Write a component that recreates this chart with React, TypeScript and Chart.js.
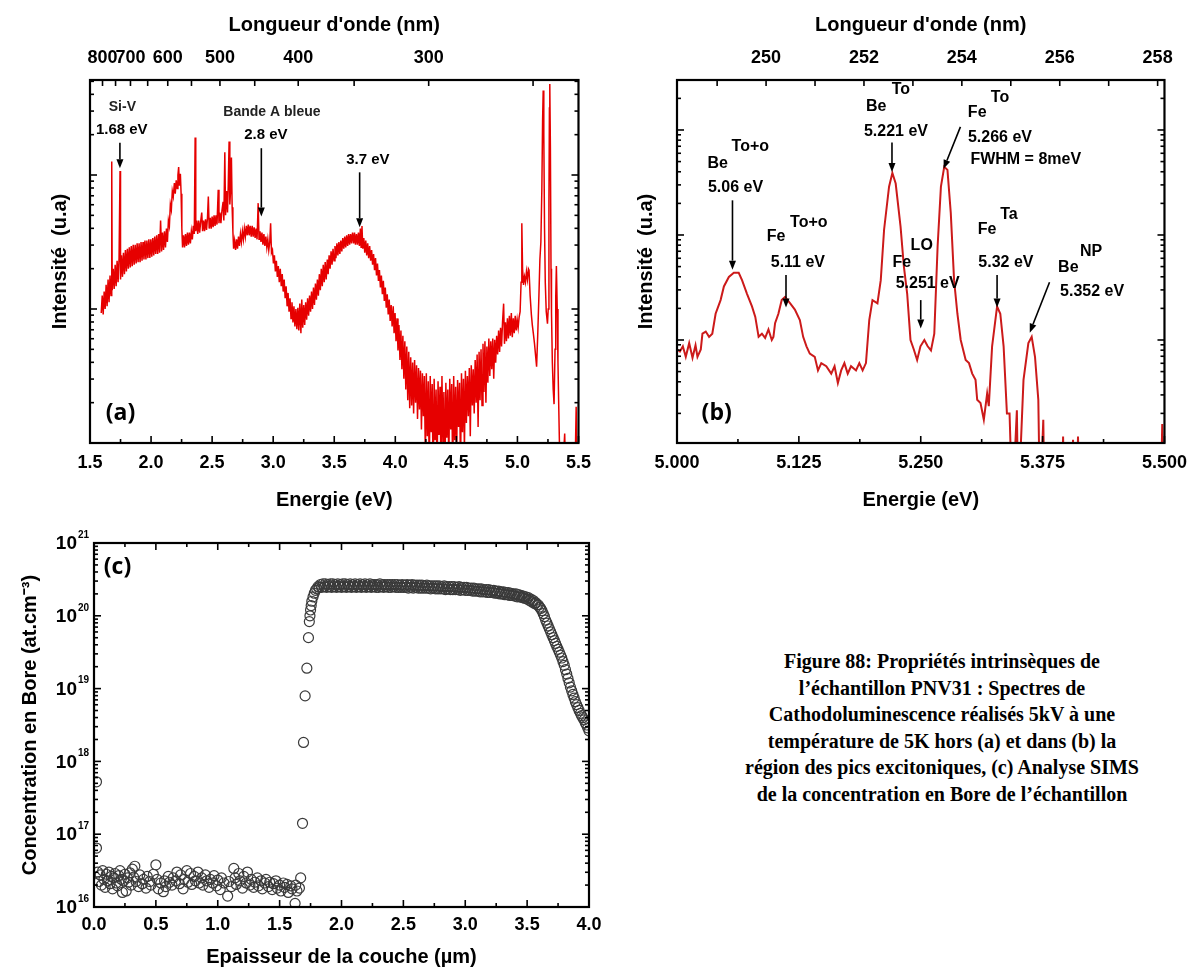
import React, { useEffect, useRef } from 'react';
import { Chart, registerables } from 'chart.js';
Chart.register(...registerables);

const SANS = "'Liberation Sans', Arial, Helvetica, sans-serif";
const LABEL_FONT = "'Open Sans', 'Liberation Sans', sans-serif";

// ---------------- Panel (a): CL spectrum, [energy eV, log10 intensity] ----------------
const specA: [number, number][] = [
  [1.592,0.97],[1.600,1.10],[1.608,0.96],[1.616,1.13],[1.624,1.00],[1.632,1.18],[1.640,1.02],[1.648,1.22],[1.656,1.05],[1.664,1.25],[1.672,1.10],[1.678,2.10],[1.682,1.14],[1.690,1.30],[1.698,1.15],[1.706,1.33],[1.714,1.17],[1.722,1.36],[1.730,1.20],[1.738,1.38],[1.746,2.03],[1.750,1.22],[1.758,1.40],[1.766,1.24],[1.774,1.42],[1.782,1.26],[1.790,1.44],[1.798,1.28],[1.806,1.45],[1.814,1.30],[1.822,1.46],[1.830,1.31],[1.838,1.47],[1.846,1.32],[1.854,1.48],[1.862,1.33],[1.870,1.48],[1.878,1.34],[1.886,1.49],[1.894,1.35],[1.902,1.49],[1.910,1.35],[1.918,1.50],[1.926,1.36],[1.934,1.50],[1.942,1.37],[1.950,1.51],[1.958,1.37],[1.966,1.51],[1.974,1.38],[1.982,1.52],[1.990,1.38],[1.998,1.52],[2.006,1.39],[2.014,1.53],[2.022,1.40],[2.030,1.54],[2.038,1.41],[2.046,1.55],[2.054,1.41],[2.062,1.56],[2.070,1.42],[2.078,1.66],[2.086,1.43],[2.094,1.57],[2.102,1.44],[2.110,1.58],[2.118,1.46],[2.126,1.60],[2.134,1.50],[2.142,1.66],[2.150,1.62],[2.158,1.78],[2.166,1.74],[2.174,1.88],[2.182,1.84],[2.191,1.94],[2.198,1.86],[2.206,1.96],[2.214,1.90],[2.220,2.00],[2.226,2.06],[2.232,1.92],[2.240,2.01],[2.246,1.86],[2.252,1.60],[2.258,1.46],[2.266,1.55],[2.274,1.46],[2.282,1.56],[2.290,1.47],[2.298,1.57],[2.306,1.48],[2.314,1.57],[2.322,1.49],[2.330,1.58],[2.338,1.52],[2.346,1.62],[2.354,1.56],[2.361,2.28],[2.366,1.58],[2.374,1.66],[2.382,1.56],[2.390,1.66],[2.398,1.57],[2.406,1.65],[2.415,1.72],[2.422,1.58],[2.430,1.66],[2.438,1.58],[2.446,1.67],[2.454,1.59],[2.462,1.68],[2.469,1.84],[2.476,1.60],[2.484,1.68],[2.492,1.60],[2.500,1.69],[2.508,1.61],[2.516,1.70],[2.524,1.62],[2.532,1.70],[2.540,1.63],[2.550,1.89],[2.556,1.64],[2.564,1.72],[2.572,1.64],[2.580,1.73],[2.590,1.80],[2.596,1.66],[2.604,2.17],[2.610,1.70],[2.618,1.88],[2.626,1.72],[2.632,1.92],[2.639,2.25],[2.645,1.78],[2.652,1.90],[2.658,2.13],[2.664,1.76],[2.670,1.58],[2.676,1.45],[2.684,1.51],[2.692,1.44],[2.700,1.52],[2.708,1.45],[2.716,1.54],[2.724,1.47],[2.732,1.56],[2.740,1.50],[2.748,1.58],[2.756,1.52],[2.764,1.60],[2.772,1.54],[2.780,1.62],[2.788,1.55],[2.796,1.63],[2.804,1.55],[2.812,1.62],[2.820,1.54],[2.828,1.62],[2.836,1.54],[2.844,1.61],[2.852,1.53],[2.860,1.60],[2.868,1.52],[2.877,1.79],[2.884,1.52],[2.892,1.58],[2.900,1.50],[2.908,1.57],[2.916,1.48],[2.924,1.56],[2.932,1.47],[2.940,1.54],[2.948,1.46],[2.956,1.52],[2.964,1.44],[2.972,1.50],[2.979,1.64],[2.986,1.42],[2.994,1.44],[3.002,1.34],[3.010,1.40],[3.018,1.28],[3.026,1.36],[3.034,1.24],[3.042,1.32],[3.050,1.20],[3.058,1.30],[3.066,1.17],[3.074,1.26],[3.082,1.13],[3.090,1.22],[3.098,1.08],[3.106,1.17],[3.114,1.02],[3.122,1.12],[3.130,0.98],[3.138,1.08],[3.146,0.93],[3.154,1.05],[3.162,0.90],[3.170,1.02],[3.178,0.87],[3.186,1.00],[3.194,0.85],[3.202,1.01],[3.210,0.84],[3.218,1.04],[3.227,0.82],[3.234,1.07],[3.242,0.86],[3.250,1.03],[3.258,0.88],[3.266,1.05],[3.274,0.92],[3.282,1.08],[3.290,0.95],[3.298,1.10],[3.306,0.98],[3.314,1.13],[3.322,1.00],[3.330,1.16],[3.338,1.03],[3.346,1.19],[3.354,1.07],[3.362,1.22],[3.370,1.10],[3.378,1.26],[3.386,1.14],[3.394,1.30],[3.402,1.17],[3.410,1.33],[3.418,1.20],[3.426,1.35],[3.434,1.22],[3.443,1.37],[3.450,1.26],[3.458,1.40],[3.466,1.30],[3.474,1.43],[3.482,1.33],[3.490,1.45],[3.498,1.36],[3.506,1.47],[3.514,1.38],[3.522,1.49],[3.530,1.40],[3.538,1.50],[3.546,1.41],[3.554,1.51],[3.562,1.43],[3.570,1.53],[3.578,1.45],[3.586,1.54],[3.594,1.46],[3.602,1.55],[3.610,1.47],[3.618,1.56],[3.626,1.48],[3.634,1.56],[3.642,1.49],[3.650,1.57],[3.659,1.49],[3.666,1.57],[3.674,1.48],[3.682,1.56],[3.690,1.48],[3.698,1.57],[3.706,1.47],[3.714,1.60],[3.720,1.46],[3.727,1.62],[3.734,1.45],[3.742,1.53],[3.750,1.42],[3.758,1.51],[3.766,1.40],[3.774,1.49],[3.782,1.38],[3.790,1.47],[3.798,1.36],[3.806,1.44],[3.814,1.33],[3.822,1.41],[3.830,1.29],[3.838,1.38],[3.846,1.25],[3.854,1.34],[3.862,1.21],[3.870,1.29],[3.878,1.16],[3.886,1.25],[3.894,1.11],[3.902,1.21],[3.910,1.06],[3.918,1.16],[3.926,1.01],[3.934,1.11],[3.942,0.96],[3.950,1.07],[3.958,0.91],[3.966,1.03],[3.974,0.87],[3.983,1.02],[3.990,0.82],[3.998,0.97],[4.006,0.76],[4.014,0.93],[4.022,0.69],[4.030,0.88],[4.038,0.62],[4.046,0.84],[4.054,0.55],[4.062,0.80],[4.070,0.48],[4.078,0.76],[4.086,0.40],[4.094,0.72],[4.102,0.32],[4.110,0.68],[4.118,0.26],[4.126,0.64],[4.134,0.28],[4.142,0.60],[4.150,0.22],[4.158,0.62],[4.166,0.30],[4.174,0.58],[4.182,0.18],[4.190,0.56],[4.198,0.25],[4.206,0.54],[4.214,0.10],[4.222,0.52],[4.230,0.20],[4.238,0.50],[4.246,-0.10],[4.254,0.52],[4.262,0.05],[4.270,0.46],[4.278,-0.20],[4.286,0.50],[4.294,0.08],[4.302,0.44],[4.310,-0.30],[4.318,0.48],[4.326,0.02],[4.334,0.40],[4.342,-0.25],[4.350,0.46],[4.358,0.06],[4.366,0.42],[4.374,-0.20],[4.382,0.50],[4.390,0.00],[4.398,0.38],[4.406,-0.30],[4.414,0.45],[4.422,0.04],[4.430,0.40],[4.438,-0.15],[4.446,0.48],[4.454,0.10],[4.462,0.44],[4.470,-0.25],[4.478,0.50],[4.486,0.02],[4.494,0.42],[4.502,-0.10],[4.510,0.47],[4.518,0.12],[4.526,0.45],[4.534,-0.20],[4.542,0.52],[4.550,0.08],[4.558,0.48],[4.566,-0.05],[4.574,0.54],[4.582,0.15],[4.590,0.50],[4.598,0.20],[4.606,0.56],[4.614,0.05],[4.622,0.58],[4.631,0.28],[4.638,0.55],[4.646,0.22],[4.654,0.62],[4.662,0.30],[4.670,0.66],[4.678,0.12],[4.686,0.68],[4.694,0.32],[4.702,0.70],[4.710,0.28],[4.718,0.74],[4.726,0.38],[4.734,0.76],[4.742,0.30],[4.750,0.72],[4.758,0.45],[4.766,0.78],[4.774,0.50],[4.782,0.76],[4.790,0.55],[4.798,0.78],[4.806,0.48],[4.814,0.77],[4.822,0.60],[4.830,0.80],[4.838,0.66],[4.846,0.84],[4.854,0.68],[4.862,0.86],[4.870,0.72],[4.878,0.90],[4.887,1.04],[4.894,0.74],[4.902,0.90],[4.910,0.76],[4.918,0.93],[4.926,0.78],[4.934,0.95],[4.942,0.80],[4.950,0.97],[4.958,0.79],[4.966,0.93],[4.974,0.82],[4.982,0.95],[4.990,0.84],[4.998,0.92],[5.006,0.86],[5.014,0.94],[5.022,0.98],[5.030,1.20],[5.036,1.64],[5.042,1.30],[5.050,1.18],[5.058,1.24],[5.066,1.20],[5.074,1.28],[5.082,1.22],[5.090,1.30],[5.095,1.29],[5.104,1.10],[5.114,0.96],[5.122,0.88],[5.130,0.82],[5.140,0.74],[5.148,0.66],[5.157,0.57],[5.166,0.80],[5.176,1.10],[5.184,1.37],[5.192,1.50],[5.200,1.90],[5.206,2.40],[5.211,2.63],[5.216,2.30],[5.222,1.60],[5.228,1.20],[5.236,0.98],[5.246,0.89],[5.252,1.00],[5.258,1.80],[5.262,2.50],[5.265,2.68],[5.270,2.20],[5.275,1.30],[5.279,0.97],[5.286,0.60],[5.293,0.40],[5.300,0.29],[5.308,0.70],[5.314,1.10],[5.319,1.32],[5.326,1.00],[5.332,0.60],[5.338,0.29],[5.346,-0.10],[5.354,-0.30],[5.360,-0.40],[5.370,-0.20],[5.380,-0.05],[5.387,0.07],[5.394,-0.20],[5.404,-0.35],[5.414,-0.40],[5.440,-0.40],[5.470,-0.30],[5.481,0.27],[5.488,-0.30]
];
const aEnergyTicks = [1.5, 2.0, 2.5, 3.0, 3.5, 4.0, 4.5, 5.0, 5.5];
const aEnergyMinor = [1.75, 2.25, 2.75, 3.25, 3.75, 4.25, 4.75, 5.25];
const aWaveTicks = [800, 750, 700, 650, 600, 550, 500, 450, 400, 350, 300, 250];
const aWaveLabels = [800, 700, 600, 500, 400, 300];
const WAVE_CONST = 1282; // eV·nm relation used by the top axis of (a)
const aLogMin = 0, aLogMax = 2.709;

// ---------------- Panel (b): excitonic region, [energy eV, log10 intensity] ----------------
const specB: [number, number][] = [
  [4.999,0.92],[5.003,0.89],[5.006,0.94],[5.009,0.84],[5.0125,0.97],[5.0159,0.83],[5.019,0.95],[5.021,0.84],[5.0244,0.91],[5.0261,1.06],[5.0295,1.08],[5.0329,1.03],[5.0362,1.06],[5.0396,1.25],[5.0447,1.38],[5.0481,1.51],[5.0532,1.60],[5.0583,1.64],[5.0633,1.64],[5.0667,1.57],[5.0718,1.44],[5.0769,1.32],[5.0803,1.22],[5.0837,1.03],[5.0871,1.06],[5.0904,1.02],[5.0938,1.10],[5.0972,1.00],[5.0989,1.03],[5.1006,1.16],[5.1040,1.25],[5.1074,1.38],[5.1108,1.41],[5.1159,1.35],[5.1209,1.29],[5.1260,1.19],[5.1294,1.03],[5.1328,0.94],[5.1362,0.87],[5.1413,0.84],[5.1446,0.71],[5.1480,0.78],[5.1531,0.75],[5.1582,0.68],[5.1616,0.75],[5.1650,0.59],[5.1684,0.71],[5.1717,0.78],[5.1751,0.68],[5.1785,0.75],[5.1836,0.71],[5.1870,0.78],[5.1904,0.71],[5.1938,0.78],[5.1972,1.19],[5.2005,1.38],[5.2056,1.35],[5.2090,1.57],[5.2124,2.05],[5.2175,2.46],[5.2209,2.59],[5.2243,2.49],[5.2293,2.08],[5.2327,1.70],[5.2361,1.44],[5.2395,1.00],[5.2429,0.91],[5.2463,0.81],[5.2497,0.94],[5.2537,1.00],[5.2571,0.94],[5.2605,0.90],[5.2639,1.06],[5.2673,1.89],[5.2707,2.46],[5.2741,2.65],[5.2774,2.62],[5.2808,2.21],[5.2842,1.57],[5.2876,1.25],[5.2910,1.00],[5.2961,0.81],[5.2995,0.78],[5.3028,0.68],[5.3062,0.62],[5.3079,0.43],[5.3113,0.40],[5.3147,0.24],[5.3181,0.49],[5.3198,0.37],[5.3232,0.94],[5.3283,1.32],[5.3316,1.25],[5.3350,0.94],[5.3384,0.30],[5.3411,0.30],[5.3440,-0.60],[5.3486,0.33],[5.3500,-0.60],[5.3554,0.62],[5.3604,0.97],[5.3638,1.03],[5.3672,0.84],[5.3706,0.43],[5.3723,-0.60],[5.3757,0.24],[5.3770,-0.60],[5.3950,-0.60],[5.3960,0.08],[5.3975,-0.60],[5.4050,-0.60],[5.4062,0.05],[5.4080,-0.60],[5.4100,-0.60],[5.4113,0.08],[5.4130,-0.60],[5.4960,-0.60],[5.4977,0.20],[5.4995,-0.60]
];
const bEnergyTicks = [5.0, 5.125, 5.25, 5.375, 5.5];
const bEnergyMinor = [5.0625, 5.1875, 5.3125, 5.4375];
const bWaveTicks = [249, 250, 251, 252, 253, 254, 255, 256, 257, 258];
const bWaveLabels = [250, 252, 254, 256, 258];
const bWaveMin = 248.18, bWaveMax = 258.14;
const bLogMin = 0.019, bLogMax = 3.476;

// ---------------- Panel (c): SIMS boron profile, [depth µm, log10 concentration] ----------------
const simsLow: [number, number][] = [
  [0.02,17.72],[0.02,16.81],[0.03,16.48],[0.04,16.35],[0.05,16.44],[0.06,16.30],[0.07,16.50],[0.08,16.38],[0.09,16.27],[0.10,16.45],[0.11,16.36],[0.12,16.48],[0.13,16.32],[0.14,16.42],[0.15,16.25],[0.16,16.40],[0.17,16.46],[0.18,16.33],[0.19,16.29],[0.20,16.43],[0.21,16.50],[0.22,16.38],[0.23,16.20],[0.24,16.36],[0.25,16.45],[0.26,16.22],[0.27,16.40],[0.28,16.34],[0.29,16.47],[0.30,16.30],[0.31,16.52],[0.32,16.41],[0.33,16.56],[0.34,16.35],[0.36,16.28],[0.37,16.44],[0.39,16.32],[0.40,16.38],[0.42,16.26],[0.43,16.42],[0.45,16.35],[0.46,16.30],[0.48,16.45],[0.50,16.58],[0.51,16.38],[0.52,16.25],[0.54,16.33],[0.56,16.21],[0.57,16.36],[0.58,16.28],[0.60,16.42],[0.61,16.34],[0.63,16.30],[0.64,16.40],[0.66,16.36],[0.67,16.48],[0.69,16.32],[0.70,16.44],[0.72,16.25],[0.73,16.38],[0.75,16.50],[0.76,16.34],[0.78,16.46],[0.79,16.31],[0.81,16.42],[0.82,16.36],[0.84,16.48],[0.85,16.33],[0.87,16.40],[0.88,16.30],[0.90,16.44],[0.91,16.36],[0.93,16.27],[0.94,16.38],[0.96,16.33],[0.97,16.43],[0.99,16.29],[1.00,16.37],[1.02,16.24],[1.03,16.40],[1.05,16.33],[1.08,16.15],[1.09,16.35],[1.11,16.28],[1.13,16.53],[1.14,16.40],[1.15,16.31],[1.17,16.46],[1.18,16.36],[1.20,16.26],[1.21,16.42],[1.23,16.33],[1.24,16.48],[1.26,16.30],[1.27,16.38],[1.29,16.27],[1.30,16.34],[1.32,16.40],[1.33,16.29],[1.35,16.36],[1.36,16.25],[1.38,16.33],[1.39,16.38],[1.41,16.28],[1.42,16.34],[1.44,16.24],[1.45,16.32],[1.47,16.36],[1.48,16.26],[1.50,16.30],[1.51,16.22],[1.53,16.33],[1.54,16.27],[1.56,16.31],[1.57,16.20],[1.59,16.29],[1.60,16.25],[1.625,16.05],[1.63,16.30],[1.64,16.22],[1.66,16.26],[1.67,16.40]
];
const simsRise: [number, number][] = [
  [1.685,17.15],[1.693,18.26],[1.706,18.90],[1.72,19.28],[1.733,19.70],[1.74,19.92],[1.745,20.00],[1.75,20.08],[1.755,20.14],[1.76,20.20],[1.77,20.26],[1.78,20.31],[1.79,20.35]
];
const simsPlateau: [number, number][] = [
  [1.80,20.37],[1.81,20.40],[1.82,20.39],[1.83,20.43],[1.84,20.39],[1.85,20.44],[1.86,20.40],[1.87,20.44],[1.88,20.39],[1.89,20.43],[1.90,20.40],[1.91,20.44],[1.92,20.39],[1.93,20.44],[1.94,20.40],[1.95,20.43],[1.96,20.39],[1.97,20.44],[1.98,20.40],[1.99,20.43],
  [2.00,20.39],[2.01,20.44],[2.02,20.40],[2.03,20.44],[2.04,20.39],[2.05,20.43],[2.06,20.40],[2.07,20.44],[2.08,20.39],[2.09,20.43],[2.10,20.40],[2.11,20.44],[2.12,20.39],[2.13,20.43],[2.14,20.40],[2.15,20.44],[2.16,20.39],[2.17,20.43],[2.18,20.40],[2.19,20.44],
  [2.20,20.39],[2.21,20.43],[2.22,20.40],[2.23,20.44],[2.24,20.39],[2.25,20.43],[2.26,20.40],[2.27,20.43],[2.28,20.39],[2.29,20.43],[2.30,20.39],[2.31,20.44],[2.32,20.40],[2.33,20.43],[2.34,20.39],[2.35,20.43],[2.36,20.40],[2.37,20.43],[2.38,20.39],[2.39,20.43],
  [2.40,20.39],[2.41,20.43],[2.42,20.40],[2.43,20.43],[2.44,20.39],[2.45,20.43],[2.46,20.39],[2.47,20.42],[2.48,20.39],[2.49,20.43],[2.50,20.39],[2.51,20.42],[2.52,20.39],[2.53,20.43],[2.54,20.38],[2.55,20.42],[2.56,20.39],[2.57,20.43],[2.58,20.38],[2.59,20.42],
  [2.60,20.39],[2.61,20.42],[2.62,20.38],[2.63,20.42],[2.64,20.38],[2.65,20.42],[2.66,20.38],[2.67,20.41],[2.68,20.38],[2.69,20.42],[2.70,20.38],[2.71,20.41],[2.72,20.37],[2.73,20.41],[2.74,20.38],[2.75,20.41],[2.76,20.37],[2.77,20.41],[2.78,20.37],[2.79,20.41],
  [2.80,20.37],[2.81,20.40],[2.82,20.37],[2.83,20.41],[2.84,20.36],[2.85,20.40],[2.86,20.37],[2.87,20.40],[2.88,20.36],[2.89,20.40],[2.90,20.36],[2.91,20.40],[2.92,20.36],[2.93,20.39],[2.94,20.36],[2.95,20.40],[2.96,20.35],[2.97,20.39],[2.98,20.36],[2.99,20.39],
  [3.00,20.35],[3.01,20.39],[3.02,20.35],[3.03,20.38],[3.04,20.35],[3.05,20.38],[3.06,20.34],[3.07,20.38],[3.08,20.34],[3.09,20.37],[3.10,20.34],[3.11,20.37],[3.12,20.33],[3.13,20.37],[3.14,20.33],[3.15,20.36],[3.16,20.33],[3.17,20.36],[3.18,20.32],[3.19,20.36],
  [3.20,20.32],[3.21,20.35],[3.22,20.32],[3.23,20.35],[3.24,20.31],[3.25,20.34],[3.26,20.31],[3.27,20.34],[3.28,20.30],[3.29,20.33],[3.30,20.30],[3.31,20.33],[3.32,20.29],[3.33,20.32],[3.34,20.29],[3.35,20.32],[3.36,20.28],[3.37,20.31],[3.38,20.28],[3.39,20.30],
  [3.40,20.27],[3.41,20.30],[3.42,20.26],[3.43,20.29],[3.44,20.26],[3.45,20.28],[3.46,20.25],[3.47,20.27],[3.48,20.24],[3.49,20.26],[3.50,20.23],[3.51,20.25],[3.52,20.21],[3.53,20.23],[3.54,20.19],[3.55,20.21],[3.56,20.17],[3.57,20.18],[3.58,20.15],[3.59,20.15],[3.60,20.12]
];
const simsFall: [number, number][] = [
  [3.61,20.10],[3.62,20.07],[3.63,20.03],[3.64,19.99],[3.65,19.94],[3.66,19.90],[3.67,19.86],[3.68,19.82],[3.69,19.78],[3.70,19.74],[3.71,19.70],[3.72,19.66],[3.73,19.62],[3.74,19.58],[3.75,19.54],[3.76,19.50],[3.77,19.46],[3.78,19.42],[3.79,19.37],[3.80,19.32],[3.81,19.26],[3.82,19.20],[3.83,19.14],[3.84,19.08],[3.85,19.02],[3.86,18.97],[3.87,18.92],[3.88,18.87],[3.89,18.82],[3.90,18.78],[3.91,18.74],[3.92,18.70],[3.93,18.66],[3.94,18.63],[3.95,18.60],[3.96,18.57],[3.97,18.53],[3.98,18.50],[3.99,18.46],[4.00,18.42]
];
const cDepthTicks = [0, 0.5, 1.0, 1.5, 2.0, 2.5, 3.0, 3.5, 4.0];
const cDepthMinor = [0.25, 0.75, 1.25, 1.75, 2.25, 2.75, 3.25, 3.75];
const cExps = [16, 17, 18, 19, 20, 21];

// ---------------- helpers ----------------
type Side = { scale: string; side: 'top' | 'bottom' | 'left' | 'right'; major: number[]; minor: number[]; majLen?: number; minLen?: number };
type Note = { text: string; x: number; y: number; size: number; weight?: string; family?: string; color?: string };
type Arrow = { x1: number; y1: number; x2: number; y2: number };

function logMinorMajor(e0: number, e1: number) {
  const major: number[] = [];
  const minor: number[] = [];
  for (let e = e0; e <= e1; e++) {
    major.push(Math.pow(10, e));
    for (let m = 2; m <= 9; m++) minor.push(m * Math.pow(10, e));
  }
  return { major, minor };
}

function framePlugin(sides: Side[]) {
  return {
    id: 'frameTicks',
    afterDatasetsDraw(chart: any) {
      const { ctx, chartArea: a } = chart;
      ctx.save();
      ctx.strokeStyle = '#000';
      ctx.lineWidth = 1.6;
      for (const s of sides) {
        const sc = chart.scales[s.scale];
        const draw = (v: number, len: number) => {
          const p = sc.getPixelForValue(v);
          const horiz = s.side === 'top' || s.side === 'bottom';
          if (horiz && (p < a.left - 0.5 || p > a.right + 0.5)) return;
          if (!horiz && (p < a.top - 0.5 || p > a.bottom + 0.5)) return;
          ctx.beginPath();
          if (s.side === 'bottom') { ctx.moveTo(p, a.bottom); ctx.lineTo(p, a.bottom - len); }
          if (s.side === 'top') { ctx.moveTo(p, a.top); ctx.lineTo(p, a.top + len); }
          if (s.side === 'left') { ctx.moveTo(a.left, p); ctx.lineTo(a.left + len, p); }
          if (s.side === 'right') { ctx.moveTo(a.right, p); ctx.lineTo(a.right - len, p); }
          ctx.stroke();
        };
        s.major.forEach((v) => draw(v, s.majLen ?? 7));
        s.minor.forEach((v) => draw(v, s.minLen ?? 4));
      }
      ctx.lineWidth = 2.2;
      ctx.strokeRect(a.left, a.top, a.right - a.left, a.bottom - a.top);
      ctx.restore();
    },
  };
}

function notesPlugin(notes: Note[], arrows: Arrow[]) {
  return {
    id: 'notes',
    afterDatasetsDraw(chart: any) {
      const ctx = chart.ctx;
      const xs = chart.scales.x;
      const ys = chart.scales.y;
      const px = (v: number) => xs.getPixelForValue(v);
      const py = (v: number) => ys.getPixelForValue(Math.pow(10, v));
      ctx.save();
      ctx.textAlign = 'center';
      ctx.textBaseline = 'middle';
      for (const n of notes) {
        ctx.fillStyle = n.color ?? '#000';
        ctx.font = `${n.weight ?? 'bold'} ${n.size}px ${n.family ?? SANS}`;
        ctx.fillText(n.text, px(n.x), py(n.y));
      }
      ctx.strokeStyle = '#000';
      ctx.fillStyle = '#000';
      ctx.lineWidth = 1.6;
      for (const ar of arrows) {
        const x1 = px(ar.x1), y1 = py(ar.y1), x2 = px(ar.x2), y2 = py(ar.y2);
        const ang = Math.atan2(y2 - y1, x2 - x1);
        const L = 9, W = 3.5;
        const bx = x2 - L * Math.cos(ang), by = y2 - L * Math.sin(ang);
        ctx.beginPath(); ctx.moveTo(x1, y1); ctx.lineTo(bx, by); ctx.stroke();
        ctx.beginPath();
        ctx.moveTo(x2, y2);
        ctx.lineTo(bx + W * Math.sin(ang), by - W * Math.cos(ang));
        ctx.lineTo(bx - W * Math.sin(ang), by + W * Math.cos(ang));
        ctx.closePath(); ctx.fill();
      }
      ctx.restore();
    },
  };
}

const tickFont = { family: SANS, size: 18, weight: 'bold' as const };
const titleFont = { family: SANS, size: 20, weight: 'bold' as const };

function hAxis(opts: any) {
  return {
    type: 'linear', grid: { display: false, drawTicks: false }, border: { display: false },
    ...opts,
    ticks: { font: tickFont, color: '#000', autoSkip: false, maxRotation: 0, minRotation: 0, ...(opts.ticks || {}) },
  };
}

// ---------------- chart configs ----------------
const aNotes: Note[] = [
  { text: 'Si-V', x: 1.765, y: 2.51, size: 14, color: '#222' },
  { text: '1.68 eV', x: 1.76, y: 2.34, size: 15 },
  { text: 'Bande A bleue', x: 2.99, y: 2.47, size: 14, color: '#222' },
  { text: '2.8 eV', x: 2.94, y: 2.30, size: 15 },
  { text: '3.7 eV', x: 3.775, y: 2.11, size: 15 },
  { text: '(a)', x: 1.75, y: 0.22, size: 23, family: LABEL_FONT },
];
const aArrows: Arrow[] = [
  { x1: 1.745, y1: 2.24, x2: 1.745, y2: 2.05 },
  { x1: 2.903, y1: 2.20, x2: 2.903, y2: 1.69 },
  { x1: 3.708, y1: 2.02, x2: 3.708, y2: 1.61 },
];

function configA() {
  const yt = logMinorMajor(0, 2);
  const topE = aWaveTicks.map((w) => WAVE_CONST / w);
  return {
    type: 'line',
    data: { datasets: [{ data: specA.map(([e, v]) => ({ x: e, y: Math.pow(10, v) })), borderColor: '#e60000', borderWidth: 1.5, pointRadius: 0, tension: 0, fill: false }] },
    options: {
      responsive: false, animation: false, devicePixelRatio: 1, events: [],
      layout: { padding: { left: 0, top: 0, right: 16, bottom: 0 } },
      plugins: { legend: { display: false }, tooltip: { enabled: false } },
      scales: {
        x: hAxis({
          position: 'bottom', min: 1.5, max: 5.5,
          afterBuildTicks: (s: any) => { s.ticks = aEnergyTicks.map((v) => ({ value: v })); },
          afterFit: (s: any) => { s.height = 77; },
          ticks: { padding: 9, callback: (v: any) => Number(v).toFixed(1) },
          title: { display: true, text: 'Energie (eV)', font: titleFont, color: '#000', padding: { top: 0, bottom: 8 } },
        }),
        xTop: hAxis({
          position: 'top', min: 1.5, max: 5.5,
          afterBuildTicks: (s: any) => { s.ticks = aWaveLabels.map((w) => ({ value: WAVE_CONST / w })); },
          afterFit: (s: any) => { s.height = 80; },
          ticks: { padding: 11, callback: (_v: any, i: number) => String(aWaveLabels[i]) },
          title: { display: true, text: "Longueur d'onde (nm)", font: titleFont, color: '#000', padding: { top: 13, bottom: 0 } },
        }),
        y: {
          type: 'logarithmic', position: 'left', min: Math.pow(10, aLogMin), max: Math.pow(10, aLogMax),
          grid: { display: false, drawTicks: false }, border: { display: false }, ticks: { display: false },
          afterFit: (s: any) => { s.width = 90; },
          title: { display: true, text: 'Intensité  (u.a)', font: titleFont, color: '#000', padding: { top: 48, bottom: 0 } },
        },
      },
    },
    plugins: [
      framePlugin([
        { scale: 'x', side: 'bottom', major: aEnergyTicks, minor: aEnergyMinor },
        { scale: 'x', side: 'top', major: topE, minor: [], majLen: 6 },
        { scale: 'y', side: 'left', major: yt.major, minor: yt.minor },
        { scale: 'y', side: 'right', major: yt.major, minor: yt.minor },
      ]),
      notesPlugin(aNotes, aArrows),
    ],
  };
}

const bNotes: Note[] = [
  { text: 'Be', x: 5.0417, y: 2.68, size: 16 },
  { text: 'To+o', x: 5.0752, y: 2.84, size: 16 },
  { text: '5.06 eV', x: 5.060, y: 2.45, size: 16 },
  { text: 'Fe', x: 5.1016, y: 1.98, size: 16 },
  { text: 'To+o', x: 5.1352, y: 2.12, size: 16 },
  { text: '5.11 eV', x: 5.124, y: 1.74, size: 16 },
  { text: 'Be', x: 5.2043, y: 3.22, size: 16 },
  { text: 'To', x: 5.2297, y: 3.38, size: 16 },
  { text: '5.221 eV', x: 5.2246, y: 2.98, size: 16 },
  { text: 'Fe', x: 5.3079, y: 3.17, size: 16 },
  { text: 'To', x: 5.3313, y: 3.31, size: 16 },
  { text: '5.266 eV', x: 5.3313, y: 2.93, size: 16 },
  { text: 'FWHM = 8meV', x: 5.3577, y: 2.72, size: 16 },
  { text: 'Fe', x: 5.2307, y: 1.74, size: 16 },
  { text: 'LO', x: 5.251, y: 1.90, size: 16 },
  { text: '5.251 eV', x: 5.2571, y: 1.54, size: 16 },
  { text: 'Fe', x: 5.3181, y: 2.05, size: 16 },
  { text: 'Ta', x: 5.3404, y: 2.19, size: 16 },
  { text: '5.32 eV', x: 5.3374, y: 1.74, size: 16 },
  { text: 'Be', x: 5.4014, y: 1.69, size: 16 },
  { text: 'NP', x: 5.4248, y: 1.84, size: 16 },
  { text: '5.352 eV', x: 5.4258, y: 1.46, size: 16 },
  { text: '(b)', x: 5.0407, y: 0.30, size: 23, family: LABEL_FONT },
];
const bArrows: Arrow[] = [
  { x1: 5.0569, y1: 2.33, x2: 5.0569, y2: 1.67 },
  { x1: 5.1118, y1: 1.62, x2: 5.1118, y2: 1.31 },
  { x1: 5.2205, y1: 2.88, x2: 5.2205, y2: 2.60 },
  { x1: 5.2907, y1: 3.03, x2: 5.2734, y2: 2.63 },
  { x1: 5.25, y1: 1.38, x2: 5.25, y2: 1.11 },
  { x1: 5.3283, y1: 1.62, x2: 5.3283, y2: 1.31 },
  { x1: 5.3821, y1: 1.55, x2: 5.3618, y2: 1.07 },
];

function configB() {
  const yt = logMinorMajor(0, 3);
  return {
    type: 'line',
    data: { datasets: [{ data: specB.map(([e, v]) => ({ x: e, y: Math.pow(10, v) })), borderColor: '#cc1a1a', borderWidth: 2, pointRadius: 0, tension: 0, fill: false }] },
    options: {
      responsive: false, animation: false, devicePixelRatio: 1, events: [],
      layout: { padding: { left: 0, top: 0, right: 27, bottom: 0 } },
      plugins: { legend: { display: false }, tooltip: { enabled: false } },
      scales: {
        x: hAxis({
          position: 'bottom', min: 5.0, max: 5.5,
          afterBuildTicks: (s: any) => { s.ticks = bEnergyTicks.map((v) => ({ value: v })); },
          afterFit: (s: any) => { s.height = 77; },
          ticks: { padding: 9, callback: (v: any) => Number(v).toFixed(3) },
          title: { display: true, text: 'Energie (eV)', font: titleFont, color: '#000', padding: { top: 0, bottom: 8 } },
        }),
        xTop: hAxis({
          position: 'top', min: bWaveMin, max: bWaveMax,
          afterBuildTicks: (s: any) => { s.ticks = bWaveLabels.map((v) => ({ value: v })); },
          afterFit: (s: any) => { s.height = 80; },
          ticks: { padding: 11, callback: (v: any) => String(v) },
          title: { display: true, text: "Longueur d'onde (nm)", font: titleFont, color: '#000', padding: { top: 13, bottom: 0 } },
        }),
        y: {
          type: 'logarithmic', position: 'left', min: Math.pow(10, bLogMin), max: Math.pow(10, bLogMax),
          grid: { display: false, drawTicks: false }, border: { display: false }, ticks: { display: false },
          afterFit: (s: any) => { s.width = 77; },
          title: { display: true, text: 'Intensité  (u.a)', font: titleFont, color: '#000', padding: { top: 34, bottom: 0 } },
        },
      },
    },
    plugins: [
      framePlugin([
        { scale: 'x', side: 'bottom', major: bEnergyTicks, minor: bEnergyMinor },
        { scale: 'xTop', side: 'top', major: bWaveTicks, minor: [], majLen: 6 },
        { scale: 'y', side: 'left', major: yt.major, minor: yt.minor },
        { scale: 'y', side: 'right', major: yt.major, minor: yt.minor },
      ]),
      notesPlugin(bNotes, bArrows),
    ],
  };
}

const cNotes: Note[] = [{ text: '(c)', x: 0.19, y: 20.66, size: 23, family: LABEL_FONT }];

const cYLabels = {
  id: 'cYLabels',
  afterDraw(chart: any) {
    const ctx = chart.ctx;
    const ys = chart.scales.y;
    const a = chart.chartArea;
    ctx.save();
    ctx.fillStyle = '#000';
    ctx.textBaseline = 'middle';
    for (const e of cExps) {
      const p = ys.getPixelForValue(Math.pow(10, e));
      const xr = a.left - 17;
      ctx.font = `bold 19px ${SANS}`;
      ctx.textAlign = 'right';
      ctx.fillText('10', xr, p + 1);
      ctx.font = `bold 10px ${SANS}`;
      ctx.textAlign = 'left';
      ctx.fillText(String(e), xr + 1, p - 8);
    }
    ctx.restore();
  },
};

function configC() {
  const yt = logMinorMajor(16, 21);
  const pts = [...simsLow, ...simsRise, ...simsPlateau, ...simsFall].map(([d, v]) => ({ x: d, y: Math.pow(10, v) }));
  return {
    type: 'scatter',
    data: { datasets: [{ data: pts, borderColor: '#3a3a3a', backgroundColor: 'rgba(255,255,255,0)', borderWidth: 1.2, pointRadius: 5, pointStyle: 'circle' }] },
    options: {
      responsive: false, animation: false, devicePixelRatio: 1, events: [],
      layout: { padding: { left: 0, top: 43, right: 31, bottom: 0 } },
      plugins: { legend: { display: false }, tooltip: { enabled: false } },
      scales: {
        x: hAxis({
          position: 'bottom', min: 0, max: 4,
          afterBuildTicks: (s: any) => { s.ticks = cDepthTicks.map((v) => ({ value: v })); },
          afterFit: (s: any) => { s.height = 64; },
          ticks: { padding: 7, callback: (v: any) => Number(v).toFixed(1) },
          title: { display: true, text: 'Epaisseur de la couche (µm)', font: titleFont, color: '#000', padding: { top: 0, bottom: 2 } },
        }),
        y: {
          type: 'logarithmic', position: 'left', min: 1e16, max: 1e21,
          grid: { display: false, drawTicks: false }, border: { display: false }, ticks: { display: false },
          afterFit: (s: any) => { s.width = 94; },
          title: { display: true, text: 'Concentration en Bore (at.cm⁻³)', font: titleFont, color: '#000', padding: { top: 18, bottom: 0 } },
        },
      },
    },
    plugins: [
      framePlugin([
        { scale: 'x', side: 'bottom', major: cDepthTicks, minor: cDepthMinor },
        { scale: 'x', side: 'top', major: cDepthTicks, minor: cDepthMinor },
        { scale: 'y', side: 'left', major: yt.major, minor: yt.minor },
        { scale: 'y', side: 'right', major: yt.major, minor: yt.minor },
      ]),
      notesPlugin(cNotes, []),
      cYLabels,
    ],
  };
}

function ChartCanvas({ make, left, top, width, height }: { make: () => any; left: number; top: number; width: number; height: number }) {
  const ref = useRef<HTMLCanvasElement | null>(null);
  useEffect(() => {
    if (!ref.current) return;
    const chart = new Chart(ref.current, make());
    return () => chart.destroy();
  }, [make]);
  return <canvas ref={ref} width={width} height={height} style={{ position: 'absolute', left, top, width, height }} />;
}

export default function App() {
  return (
    <div style={{ position: 'absolute', left: 0, top: 0, width: 1196, height: 971, background: '#fff', overflow: 'hidden' }}>
      <ChartCanvas make={configA} left={0} top={0} width={600} height={520} />
      <ChartCanvas make={configB} left={600} top={0} width={596} height={520} />
      <ChartCanvas make={configC} left={0} top={500} width={620} height={471} />
      <div
        style={{
          position: 'absolute', left: 692, top: 648, width: 500, textAlign: 'center',
          fontFamily: "'Liberation Serif', 'Times New Roman', serif", fontWeight: 'bold',
          fontSize: 20, lineHeight: '26.5px', color: '#000',
        }}
      >
        Figure 88: Propriétés intrinsèques de<br />
        l’échantillon PNV31 : Spectres de<br />
        Cathodoluminescence réalisés 5kV à une<br />
        température de 5K hors (a) et dans (b) la<br />
        région des pics excitoniques, (c) Analyse SIMS<br />
        de la concentration en Bore de l’échantillon
      </div>
    </div>
  );
}
